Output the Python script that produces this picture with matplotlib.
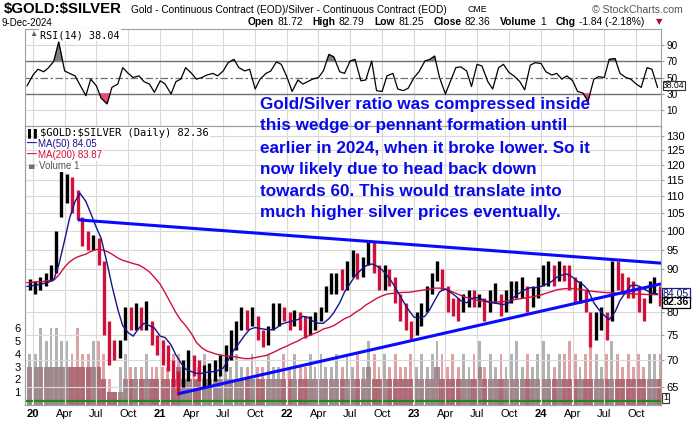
import numpy as np
import pandas as pd
import matplotlib
matplotlib.use('Agg')
import matplotlib.pyplot as plt
from matplotlib.ticker import NullLocator

plt.rcParams['font.family'] = ['Liberation Sans', 'DejaVu Sans']

# half-month periods (1st and 15th of each month)
dates = pd.date_range('2019-12-15', periods=120, freq='SMS')

low = [85, 84, 85, 86, 87, 89, 104, 108, 105, 103, 96, 95, 95, 91, 75, 69, 70, 70.5, 74, 76, 76, 76, 76, 73, 71,
       69, 68, 65, 63.5, 65, 66, 67, 66, 65, 65, 66, 67, 68, 70, 72, 76, 76, 77, 74, 72.5, 73, 76, 77, 78,
       76, 77, 76, 74.5, 75, 76, 78, 80, 84, 84, 85, 85, 88, 87.5, 88, 91, 89, 85, 85, 86, 82, 78, 76, 74,
       75, 77, 80, 84, 87, 85, 80, 79, 78, 80, 81, 81, 81, 78, 80, 82, 79, 80, 82, 83, 83, 80, 81, 83,
       86, 86, 86, 87, 87, 85, 82, 82, 80, 72.5, 74, 76, 74, 78, 85, 84, 83, 83, 80, 78, 82, 84, 81.3]
high = [87.5, 87, 88, 89, 91, 100, 118, 117, 116, 112, 104, 100, 99, 98, 92, 78, 74, 74, 81, 81, 82, 81, 82.5, 78, 75,
        74, 73, 70, 68, 70, 72, 71, 70, 69, 69.5, 70, 71, 73, 76, 78, 81, 80.5, 81, 79, 76, 77, 82, 82, 81,
        80, 80.5, 80, 79, 79, 80, 81, 86, 89, 89, 90, 92, 95, 94, 93, 97, 97, 91, 91, 90, 88, 84, 82, 78,
        80, 82, 86, 89, 92, 90, 86, 83, 83, 84, 85, 85, 84, 83, 85, 86.5, 84, 85, 87, 87, 88, 86, 86, 88,
        91, 92, 91, 92, 91, 91, 88, 87, 85, 80, 80, 81, 80, 92, 92, 89, 88, 87, 86, 83, 87, 88, 86]
close = [85.5, 86, 87, 88.5, 90, 98, 112, 112, 110, 104, 98, 97, 97, 93, 77, 72, 71.5, 72, 79, 78, 79, 77, 78, 74, 72.5,
         71, 70, 66, 65, 67.5, 70, 68.5, 67, 67, 67.5, 68.5, 69.5, 72, 74, 76, 79, 78.5, 79, 75, 74, 75, 79.5, 80, 79.5,
         78, 79, 78, 76, 77, 78, 80, 85, 86, 87, 86.5, 90, 93, 91, 91.5, 96, 90, 87, 89, 88, 84, 80, 77, 76,
         78, 80, 84, 87, 90, 86, 81, 80.5, 79.5, 82, 83, 82, 82.5, 80, 83, 84, 80, 83, 85, 85.5, 86, 82, 84, 87,
         89, 89.5, 88, 90, 89, 88, 84, 85, 81, 75, 78, 79, 76, 89, 88, 86, 85, 84.5, 81, 80, 85, 86, 82.36]

ma50 = [85.8, 86, 86.2, 86.5, 86.8, 87.5, 91, 97.5, 103.5, 108.5, 111, 108.5, 105, 101, 98, 91.5, 86, 80.5, 77, 75.5,
        74.8, 76.5, 77.5, 77, 76.5,
        74.8, 74.5, 73, 71, 69.5, 68.3, 67.8, 67.5, 67.5, 67.7, 67.8, 68, 68.5, 70, 72, 73.3, 75, 76.2, 76.6, 76.4,
        76.2, 76.1, 76.5, 77.3,
        77.7, 78, 78.3, 79, 78.8, 78, 77.5, 77.5, 78.5, 79.8, 82, 84.5, 86.5, 88.3, 89.8, 90.8, 91.3, 90.8, 89.8,
        88.5, 86.5, 84.5, 82.3, 80.5,
        78.8, 78.7, 79, 80.5, 82.5, 84.5, 85.2, 84.5, 83.5, 82.5, 82, 83, 83.2, 82.8, 82.2, 82, 81.8, 81.6, 82, 83.3,
        84.3, 85, 85.5, 85.5,
        85.8, 86.3, 87, 88, 88.5, 88.8, 88, 87, 86.2, 85, 82, 80.5, 79.2, 78.3, 80, 82.5, 84.5, 86, 86.1, 85.6,
        84.8, 84.2, 84.05]
ma200 = [86.7, 86.8, 86.9, 87, 87.2, 87.3, 88.5, 90.5, 91.8, 92.8, 93.3, 93.8, 94.5, 95, 95, 94.5, 93.8, 92.8, 92.2,
         91.8, 91.4, 91, 90.3, 89.3, 88,
         86.3, 84.3, 81.8, 79.8, 78.2, 77, 75.3, 73.5, 72.4, 71.8, 71.4, 71.1, 70.9, 70.8, 70.7, 70.5, 70.3, 70.3,
         70.5, 70.7, 70.9, 71.3, 71.8, 72.3,
         72.8, 73.3, 73.8, 74.4, 74.8, 75.2, 75.7, 76.3, 76.6, 77, 77.8, 78.5, 79, 79.8, 80.6, 81.5, 82.3, 83, 83.6,
         84, 84.2, 84.3, 84.4, 84.4,
         84.6, 84.8, 85, 85.2, 85.4, 85.4, 85.2, 84.7, 84.2, 83.7, 83.2, 82.9, 82.6, 82.4, 82.3, 82.2, 82.2, 82.3,
         82.5, 82.7, 82.9, 83.1, 83.3, 83.5,
         83.8, 84.2, 84.6, 85, 85.2, 85.3, 85.3, 85.2, 85, 84.8, 84.6, 84.5, 84.4, 84.3, 84.3, 84.2, 84.1, 84.1, 84,
         84, 83.9, 83.9, 83.87]

rsi = [40, 53, 60, 57, 62, 70, 93, 58, 55, 52, 41, 28, 48, 40, 25, 18, 38, 42, 62, 55, 50, 52, 45, 42, 32,
       46, 42, 30, 45, 48, 62, 55, 48, 50, 53, 55, 52, 58, 68, 72, 62, 58, 60, 36, 48, 55, 58, 69, 66,
       50, 33, 47, 42, 45, 48, 50, 58, 78, 75, 57, 55, 70, 72, 46, 47, 70, 34, 33, 52, 55, 36, 34, 37,
       50, 57, 70, 72, 76, 50, 30, 45, 62, 63, 58, 39, 66, 64, 45, 36, 62, 66, 56, 52, 45, 35, 65, 68,
       67, 57, 53, 55, 48, 52, 46, 33, 31, 21, 48, 51, 50, 72, 73, 55, 50, 48, 42, 38, 62, 60, 38.04]

vol_hi = [4, 4, 6, 5, 6, 6, 5, 5, 4, 6, 4, 4, 5, 5, 4, 2, 1, 3, 4, 3, 3, 3, 4, 3, 3,
          3, 3, 4, 4, 3, 4, 3, 3, 4, 3, 3, 4, 3, 3, 4, 3, 3, 4, 3, 3, 4, 3, 3, 4,
          3, 4, 3, 3, 4, 3, 4, 3, 3, 4, 3, 4, 3, 4, 3, 5, 4, 3, 4, 3, 4, 3, 3, 4,
          3, 4, 3, 4, 5, 4, 3, 4, 3, 4, 3, 4, 5, 3, 4, 3, 4, 3, 4, 5, 3, 4, 3, 4,
          5, 4, 3, 4, 4, 5, 4, 3, 4, 5, 4, 3, 4, 5, 4, 3, 4, 3, 4, 3, 4, 4, 4]
vol_lo = [3, 3, 3, 3, 3, 3, 3, 3, 3, 3, 3, 3, 3, 3, 2, 1, 1, 1, 2, 2, 2, 2, 2, 2, 2,
          2, 2, 2, 3, 2, 2, 2, 2, 2, 2, 2, 2, 2, 2, 2, 2, 2, 2, 2, 2, 2, 2, 2, 2,
          2, 2, 2, 2, 2, 2, 2, 2, 2, 2, 2, 2, 2, 2, 2, 3, 2, 2, 2, 2, 2, 2, 2, 2,
          2, 2, 2, 2, 3, 2, 2, 2, 2, 2, 2, 2, 3, 2, 2, 2, 2, 2, 2, 2, 2, 2, 2, 2,
          2, 2, 2, 2, 2, 2, 2, 2, 2, 2, 2, 2, 2, 2, 2, 2, 2, 2, 2, 2, 2, 2, 2]

# wedge trendlines drawn on the chart
upper_dates = ['2020-05-10', '2024-12-11']
upper_vals = [103.1, 91.5]
lower_dates = ['2021-02-21', '2024-12-11']
lower_vals = [63.8, 86.4]

price_ticks = [65, 70, 75, 80, 85, 90, 95, 100, 105, 110, 115, 120, 125, 130]
rsi_ticks = [10, 30, 50, 70, 90]
vol_ticks = [1, 2, 3, 4, 5, 6]

W, H = 700, 421
fig = plt.figure(figsize=(W / 100, H / 100), dpi=100)


def fx(px):
    return px / W


def fy(py):
    return 1 - py / H


ax_rsi = fig.add_axes([fx(25), fy(126), fx(661) - fx(25), fy(29) - fy(126)])
axv = fig.add_axes([fx(25), fy(405), fx(661) - fx(25), fy(126) - fy(405)], sharex=ax_rsi)
ax = fig.add_axes(axv.get_position(), sharex=ax_rsi)
ax.patch.set_visible(False)

grid_c = '#d9d9d9'
spine_c = '#a0a0a0'
quarters = pd.date_range('2020-01-01', '2024-10-01', freq='QS')

# ---- RSI panel
rsi_arr = np.array(rsi)
ax_rsi.plot(dates, rsi_arr, color='black', lw=0.9, zorder=3)
ax_rsi.fill_between(dates, rsi_arr, 70, where=rsi_arr > 70, interpolate=True, color='#808080', zorder=2)
ax_rsi.fill_between(dates, rsi_arr, 30, where=rsi_arr < 30, interpolate=True, color='#e05070', zorder=2)
for q in quarters:
    ax_rsi.axvline(q, color=grid_c, lw=0.8, zorder=0)
for v in [10, 90]:
    ax_rsi.axhline(v, color=grid_c, lw=0.8, zorder=0)
ax_rsi.axhline(70, color='#707070', lw=1.0, zorder=1)
ax_rsi.axhline(30, color='#707070', lw=1.0, zorder=1)
ax_rsi.axhline(50, color='#707070', lw=0.9, ls=(0, (6, 2, 2, 2)), zorder=1)
ax_rsi.set_ylim(-9, 109)
ax_rsi.yaxis.tick_right()
ax_rsi.set_yticks(rsi_ticks)
ax_rsi.tick_params(axis='y', labelsize=7.2, length=2, color=spine_c, pad=2)
ax_rsi.tick_params(axis='x', labelbottom=False, length=0)

# ---- volume (behind price)
up = np.r_[True, np.diff(close) >= 0]
centers = dates + pd.Timedelta(days=7)
hi_cols = np.where(up, '#b2b2b2', '#dea2a4')
lo_cols = np.where(up, '#9c8286', '#a9636f')
axv.bar(centers, vol_hi, width=8, color=hi_cols, zorder=1)
axv.bar(centers, vol_lo, width=15, color=lo_cols, alpha=0.9, zorder=2)
axv.axhline(0.31, color='#1e8a1e', lw=1.6, zorder=3)
axv.set_ylim(0, 21.8)
axv.set_yticks(vol_ticks)
axv.tick_params(axis='y', labelsize=8, length=0, pad=3)
axv.tick_params(axis='x', labelbottom=False, length=0)

# ---- price panel
ax.set_yscale('log')
ax.set_ylim(61.85, 133.6)
for q in quarters:
    ax.axvline(q, color=grid_c, lw=0.8, zorder=0)
for p in price_ticks:
    ax.axhline(p, color=grid_c, lw=0.8, zorder=0)

bar_cols = np.where(up, 'black', '#d0103a')
ax.vlines(centers, low, high, colors=bar_cols, lw=2.4, zorder=3)
ax.plot(dates, ma200, color='#d0103a', lw=1.0, zorder=4)
ax.plot(dates, ma50, color='#14148c', lw=1.0, zorder=4)
ax.plot(pd.to_datetime(upper_dates), upper_vals, color='#0a0aff', lw=2.2, zorder=5, solid_capstyle='butt')
ax.plot(pd.to_datetime(lower_dates), lower_vals, color='#0a0aff', lw=2.2, zorder=5, solid_capstyle='butt')

ax.yaxis.tick_right()
ax.yaxis.set_minor_locator(NullLocator())
ax.set_yticks(price_ticks)
# the 85 label sits behind the MA(50) value box on the reference
ax.set_yticklabels(['' if p == 85 else str(p) for p in price_ticks])
ax.tick_params(axis='y', labelsize=8, length=2, color=spine_c, pad=2)

ax.set_xlim(pd.Timestamp('2019-12-09'), pd.Timestamp('2024-12-11'))
labels = [q.strftime('%y') if q.month == 1 else q.strftime('%b') for q in quarters]
ax.set_xticks(quarters)
ax.set_xticklabels(labels)
ax.tick_params(axis='x', labelsize=8, length=0, pad=3)
for lab, q in zip(ax.get_xticklabels(), quarters):
    if q.month == 1:
        lab.set_fontweight('bold')

for a in (ax_rsi, axv, ax):
    for s in a.spines.values():
        s.set_color(spine_c)
        s.set_linewidth(0.8)

# ---- right-side value boxes
ax_rsi.text(1.003, rsi[-1] + 2.2, '38.04', transform=ax_rsi.get_yaxis_transform(), fontsize=6.2, va='center',
            ha='left', bbox=dict(boxstyle='square,pad=0.0', fc='white', ec='#333333', lw=0.8), zorder=10)
ax.text(1.003, ma50[-1], '84.05', transform=ax.get_yaxis_transform(), fontsize=7.6, va='center', ha='left',
        color='#101060', bbox=dict(boxstyle='square,pad=0.06', fc='white', ec='#1a1aa0', lw=0.9), zorder=10)
ax.text(1.003, close[-1] - 0.25, '82.36', transform=ax.get_yaxis_transform(), fontsize=7.6, va='center', ha='left',
        fontweight='bold', bbox=dict(boxstyle='square,pad=0.06', fc='white', ec='black', lw=0.9), zorder=11)
axv.text(1.003, 0.55, '1', transform=axv.get_yaxis_transform(), fontsize=6.6, va='center', ha='left',
         bbox=dict(boxstyle='square,pad=0.08', fc='white', ec='#333333', lw=0.8), zorder=10)

# ---- legends inside panels
mono = 'DejaVu Sans Mono'
fig.text(fx(40), fy(35), 'RSI(14) 38.04', fontsize=7.3, family=mono, va='center',
         bbox=dict(boxstyle='square,pad=0.1', fc='white', ec='none'))
fig.text(fx(29), fy(35), '\u25b2', fontsize=6, color='#606060', va='center')
fig.text(fx(40), fy(133), '\\$GOLD:\\$SILVER (Daily) 82.36', fontsize=7.5, family=mono, va='center',
         bbox=dict(boxstyle='square,pad=0.1', fc='white', ec='none'))
fig.text(fx(28), fy(133), '\u258c\u258c', fontsize=6, color='black', va='center')
fig.text(fx(27), fy(144), '\u2014', fontsize=7, color='#14148c', va='center', fontweight='bold')
fig.text(fx(38), fy(144), 'MA(50) 84.05', fontsize=7, color='#14148c', va='center',
         bbox=dict(boxstyle='square,pad=0.1', fc='white', ec='none'))
fig.text(fx(27), fy(155), '\u2014', fontsize=7, color='#d0103a', va='center', fontweight='bold')
fig.text(fx(38), fy(155), 'MA(200) 83.87', fontsize=7, color='#d0103a', va='center',
         bbox=dict(boxstyle='square,pad=0.1', fc='white', ec='none'))
fig.text(fx(28), fy(166), '\u2585', fontsize=5, color='#707070', va='center', family='DejaVu Sans')
fig.text(fx(39), fy(166), 'Volume 1', fontsize=7, color='#555555', va='center',
         bbox=dict(boxstyle='square,pad=0.1', fc='white', ec='none'))

# ---- header
fig.text(fx(4), fy(9.5), '\\$GOLD:\\$SILVER', fontsize=10.8, fontweight='bold', va='center')
fig.text(fx(131), fy(10), 'Gold - Continuous Contract (EOD)/Silver - Continuous Contract (EOD)', fontsize=7.3,
         va='center')
fig.text(fx(467), fy(10), 'CME', fontsize=6.3, va='center')
fig.text(fx(683), fy(10), '\u00a9 StockCharts.com', fontsize=7.6, color='#555555', va='center', ha='right')
fig.text(fx(2), fy(23), '9-Dec-2024', fontsize=7, va='center')

# open/high/low/close line laid out left to right, spread to end at the arrow
pieces = [('Open', True), ('81.72', False), ('High', True), ('82.79', False), ('Low', True), ('81.25', False),
          ('Close', True), ('82.36', False), ('Volume', True), ('1', False), ('Chg', True),
          ('-1.84 (-2.18%)', False)]
renderer = fig.canvas.get_renderer()
texts = []
for s, b in pieces:
    texts.append(fig.text(0, fy(22), s, fontsize=7.4, fontweight='bold' if b else 'normal', va='center'))
widths = [t.get_window_extent(renderer).width for t in texts]
x_start, x_end, small_gap = 248, 654, 3
big_gap = (x_end - x_start - sum(widths) - small_gap * 6) / 6
xpos = x_start
for i, t in enumerate(texts):
    t.set_x(fx(xpos))
    xpos += widths[i] + (small_gap if pieces[i][1] else big_gap)
fig.text(fx(656), fy(22), '\u25bc', fontsize=6, color='#a0104a', va='center', family='DejaVu Sans')

# ---- annotation
note = ['Gold/Silver ratio was compressed inside',
        'this wedge or pennant formation until',
        'earlier in 2024, when it broke lower. So it',
        'now likely due to head back down',
        'towards 60. This would translate into',
        'much higher silver prices eventually.']
for i, line in enumerate(note):
    fig.text(fx(260), fy(104 + 21.8 * i), line, fontsize=12.3, fontweight='bold', color='#0a0ae8', va='center')

fig.savefig('out.png', dpi=100)
